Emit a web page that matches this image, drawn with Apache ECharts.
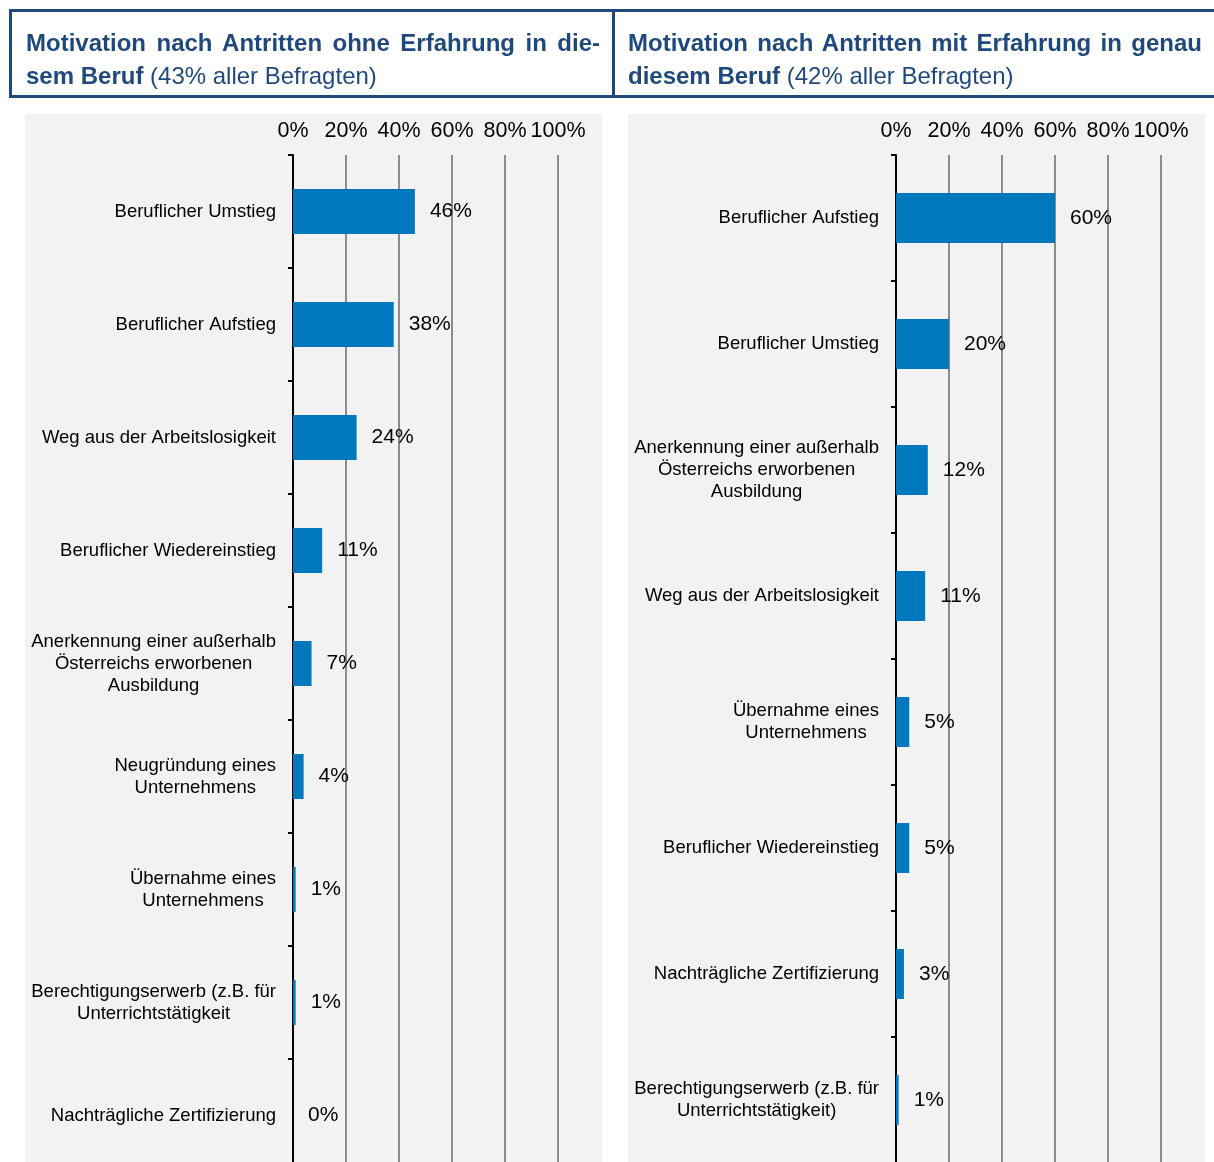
<!DOCTYPE html>
<html>
<head>
<meta charset="utf-8">
<script src="https://cdn.jsdelivr.net/npm/echarts@6/dist/echarts.min.js"></script>
<style>
  html, body { margin: 0; padding: 0; background: #fff; overflow: hidden; }
  #wrap { position: relative; width: 1214px; height: 1162px; overflow: hidden; }
  #chart { position: absolute; left: 0; top: 0; width: 1214px; height: 1190px; }
  .box { position: absolute; left: 9px; top: 9px; width: 1215px; height: 89px; box-sizing: border-box;
         border: 3px solid #1F497D; }
  .sep { position: absolute; left: 612px; top: 9px; width: 3px; height: 89px; background: #1F497D; }
  .title { position: absolute; top: 26px; width: 574px; font-family: 'Liberation Sans', Arial, sans-serif;
           font-size: 24px; line-height: 33px; color: #1F497D; }
  .l1 { text-align: justify; text-align-last: justify; font-weight: bold; }
  .l2 { text-align: left; }
  .l2 b { font-weight: bold; }
</style>
</head>
<body>
<div id="wrap">
  <div id="chart"></div>
  <div class="box"></div>
  <div class="sep"></div>
  <div class="title" style="left:26px;">
    <div class="l1">Motivation nach Antritten ohne Erfahrung in die-</div>
    <div class="l2"><b>sem Beruf</b> (43% aller Befragten)</div>
  </div>
  <div class="title" style="left:628px;">
    <div class="l1">Motivation nach Antritten mit Erfahrung in genau</div>
    <div class="l2"><b>diesem Beruf</b> (42% aller Befragten)</div>
  </div>
</div>
<script>
const leftCategories = [
  'Beruflicher Umstieg',
  'Beruflicher Aufstieg',
  'Weg aus der Arbeitslosigkeit',
  'Beruflicher Wiedereinstieg',
  'Anerkennung einer außerhalb\nÖsterreichs erworbenen\nAusbildung',
  'Neugründung eines\nUnternehmens',
  'Übernahme eines\nUnternehmens',
  'Berechtigungserwerb (z.B. für\nUnterrichtstätigkeit',
  'Nachträgliche Zertifizierung'
];
const leftValues = [46, 38, 24, 11, 7, 4, 1, 1, 0];

const rightCategories = [
  'Beruflicher Aufstieg',
  'Beruflicher Umstieg',
  'Anerkennung einer außerhalb\nÖsterreichs erworbenen\nAusbildung',
  'Weg aus der Arbeitslosigkeit',
  'Übernahme eines\nUnternehmens',
  'Beruflicher Wiedereinstieg',
  'Nachträgliche Zertifizierung',
  'Berechtigungserwerb (z.B. für\nUnterrichtstätigkeit)'
];
const rightValues = [60, 20, 12, 11, 5, 5, 3, 1];

const xTicks = { min: 0, max: 100, interval: 20 };

const FONT = "'Liberation Sans', Arial, sans-serif";
const BAR = '#0078BE';

function xAxisDef(gridIndex) {
  return {
    type: 'value', gridIndex: gridIndex, position: 'top',
    min: xTicks.min, max: xTicks.max, interval: xTicks.interval,
    axisLine: { show: false }, axisTick: { show: false },
    axisLabel: { formatter: '{value}%', fontSize: 21.5, color: '#000', fontFamily: FONT, margin: 13 },
    splitLine: { show: true, lineStyle: { color: '#8c8c8c', width: 2 } }
  };
}
function yAxisDef(gridIndex, cats) {
  return {
    type: 'category', gridIndex: gridIndex, inverse: true, data: cats,
    axisLine: { show: true, lineStyle: { color: '#000', width: 2 } },
    axisTick: { show: true, length: 5, lineStyle: { color: '#000', width: 2 } },
    axisLabel: {
      margin: 17, align: 'right', fontSize: 18.5, fontFamily: FONT, color: '#000', lineHeight: 22,
      formatter: function (v) { return v.split('\n').map(function (s) { return '{c|' + s + '}'; }).join('\n'); },
      rich: { c: { align: 'center', fontSize: 18.5, fontFamily: FONT, color: '#000', lineHeight: 22 } }
    },
    splitLine: { show: false }
  };
}
function seriesDef(idx, vals, bw) {
  return {
    type: 'bar', xAxisIndex: idx, yAxisIndex: idx, data: vals, barWidth: bw,
    itemStyle: { color: BAR },
    label: { show: true, position: 'right', distance: 15, formatter: '{c}%', fontSize: 21, color: '#000', fontFamily: FONT },
    z: 3
  };
}

const chart = echarts.init(document.getElementById('chart'), null, { renderer: 'canvas' });
chart.setOption({
  backgroundColor: '#ffffff',
  animation: false,
  graphic: [
    { type: 'rect', left: 25, top: 114, shape: { width: 577, height: 1076 }, style: { fill: '#f2f2f2' }, z: -10 },
    { type: 'rect', left: 628, top: 114, shape: { width: 577, height: 1076 }, style: { fill: '#f2f2f2' }, z: -10 }
  ],
  grid: [
    { left: 293, top: 155, width: 265, height: 1017 },
    { left: 896, top: 155, width: 265, height: 1008 }
  ],
  xAxis: [xAxisDef(0), xAxisDef(1)],
  yAxis: [yAxisDef(0, leftCategories), yAxisDef(1, rightCategories)],
  series: [seriesDef(0, leftValues, 45), seriesDef(1, rightValues, 50)]
});
</script>
</body>
</html>
